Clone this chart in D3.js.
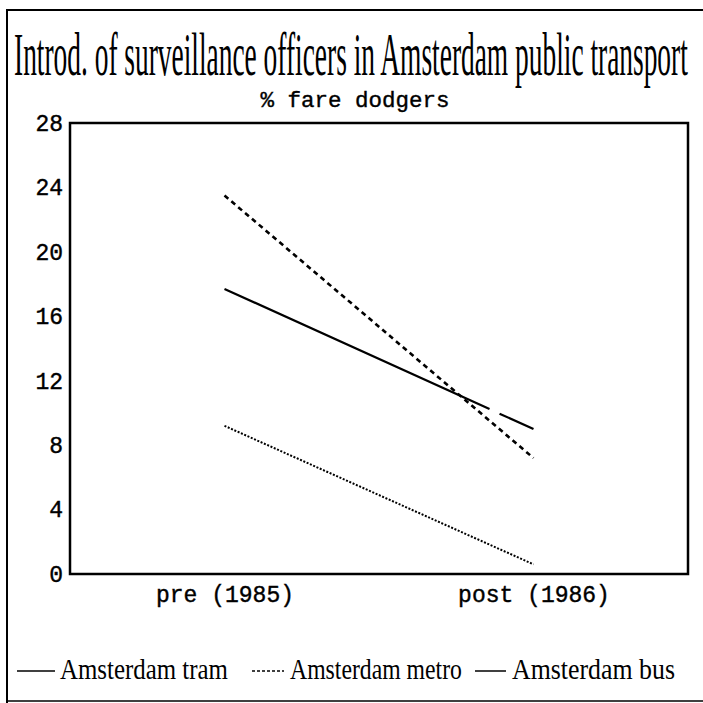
<!DOCTYPE html>
<html><head><meta charset="utf-8">
<script src="https://cdn.jsdelivr.net/npm/d3@7"></script>
<style>html,body{margin:0;padding:0;background:#fff;}svg{display:block;}</style>
</head><body>
<script>
const periods = ["pre (1985)", "post (1986)"];
const tram = [17.7, 9.0];
const metro = [23.5, 7.2];
const bus = [9.2, 0.6];
const yTicks = [0, 4, 8, 12, 16, 20, 24, 28];
const seriesNames = ["Amsterdam tram", "Amsterdam metro", "Amsterdam bus"];
const title = "Introd. of surveillance officers in Amsterdam public transport";
const subtitle = "% fare dodgers";

const W = 703, H = 703;
const svg = d3.select("body").append("svg").attr("width", W).attr("height", H);
const L = 70, R = 688, T = 123, B = 574;

const x = d3.scalePoint().domain(periods).range([L, R]).padding(0.5);
const y = d3.scaleLinear().domain([0, 28]).range([B, T]);

// condensed text helper: squeeze a text horizontally to a target width
function squeezed(str, x0, yb, size, width) {
  const g = svg.append("g");
  const t = g.append("text").attr("x", 0).attr("y", 0).text(str)
    .attr("font-family", "Liberation Serif").attr("font-size", size).attr("fill", "#000");
  const w = t.node().getComputedTextLength();
  g.attr("transform", `translate(${x0},${yb}) scale(${width / w},1)`);
  return g;
}

// outer frame
svg.append("path").attr("d", `M7,703 V10 H703`).attr("fill", "none").attr("stroke", "#000").attr("stroke-width", 2);
svg.append("line").attr("x1", 7).attr("x2", 703).attr("y1", 701).attr("y2", 701).attr("stroke", "#000").attr("stroke-width", 1.5);

// title
squeezed(title, 14, 75, 62, 674);
svg.append("text").attr("x", 355).attr("y", 107).attr("text-anchor", "middle").text(subtitle)
  .attr("font-family", "Liberation Mono").attr("font-size", 22.5).attr("fill", "#000")
  .attr("stroke", "#000").attr("stroke-width", 0.4);

// plot box
svg.append("rect").attr("x", L).attr("y", T).attr("width", R - L).attr("height", B - T)
  .attr("fill", "none").attr("stroke", "#000").attr("stroke-width", 2.5);

// y axis
const yAxis = d3.axisLeft(y).tickValues(yTicks).tickSize(0).tickPadding(7);
const ga = svg.append("g").attr("transform", `translate(${L},0)`).call(yAxis);
ga.select(".domain").remove();
ga.selectAll("text").attr("font-family", "Liberation Mono").attr("font-size", 23).attr("fill", "#000")
  .attr("stroke", "#000").attr("stroke-width", 0.4);

// x axis
const xAxis = d3.axisBottom(x).tickSize(0).tickPadding(12);
const gx = svg.append("g").attr("transform", `translate(0,${B})`).call(xAxis);
gx.select(".domain").remove();
gx.selectAll("text").attr("font-family", "Liberation Mono").attr("font-size", 23).attr("fill", "#000")
  .attr("stroke", "#000").attr("stroke-width", 0.4);

const line = d3.line().x((d, i) => x(periods[i])).y(d => y(d));
const styles = [
  { data: tram, dash: "291,11,40", w: 2.2 },
  { data: metro, dash: "5,4", w: 2.6 },
  { data: bus, dash: "2,1.6", w: 2 }
];
styles.forEach(s => {
  svg.append("path").attr("d", line(s.data)).attr("fill", "none").attr("stroke", "#000")
    .attr("stroke-width", s.w).attr("stroke-dasharray", s.dash);
});

// legend
const legItems = [
  { sx: 17, sw: 38, tx: 60, tw: 168, dash: null },
  { sx: 252, sw: 32, tx: 290, tw: 172, dash: "3,2" },
  { sx: 475, sw: 31, tx: 512, tw: 163, dash: null }
];
legItems.forEach((it, i) => {
  svg.append("line").attr("x1", it.sx).attr("x2", it.sx + it.sw).attr("y1", 671).attr("y2", 671)
    .attr("stroke", "#000").attr("stroke-width", 1.5).attr("stroke-dasharray", it.dash);
  squeezed(seriesNames[i], it.tx, 679, 30, it.tw);
});
</script>
</body></html>
